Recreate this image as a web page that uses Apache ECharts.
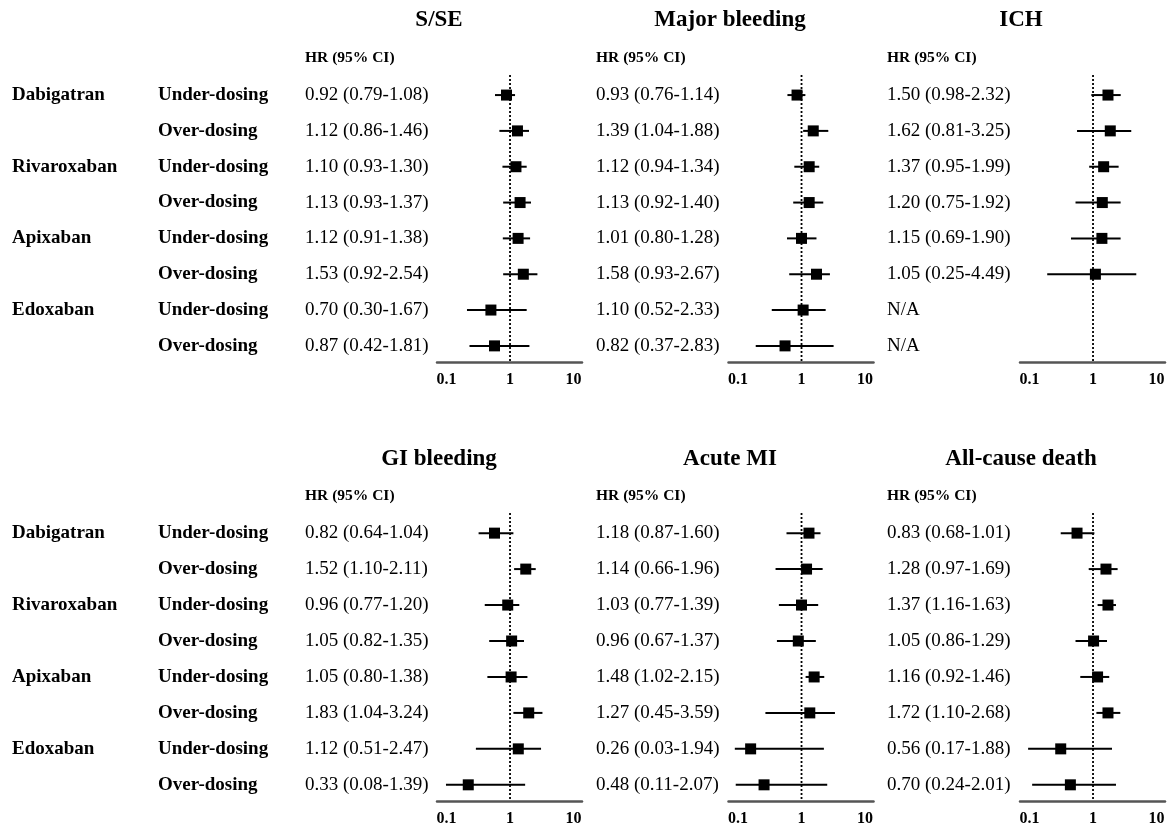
<!DOCTYPE html>
<html>
<head>
<meta charset="utf-8">
<script src="https://cdn.jsdelivr.net/npm/echarts@6/dist/echarts.min.js"></script>
<style>
html,body{margin:0;padding:0;background:#fff;}
#chart{width:1173px;height:830px;}
</style>
</head>
<body>
<div id="chart"></div>
<script>
// ---------------- DATA ----------------
const drugs = ['Dabigatran', 'Rivaroxaban', 'Apixaban', 'Edoxaban'];
const dosing = ['Under-dosing', 'Over-dosing', 'Under-dosing', 'Over-dosing',
                'Under-dosing', 'Over-dosing', 'Under-dosing', 'Over-dosing'];
const outcomes = ['S/SE', 'Major bleeding', 'ICH', 'GI bleeding', 'Acute MI', 'All-cause death'];
const headerText = 'HR (95% CI)';
const tickLabels = ['0.1', '1', '10'];

// HR (95% CI) texts, one per row
const text_SSE = ['0.92 (0.79-1.08)', '1.12 (0.86-1.46)', '1.10 (0.93-1.30)', '1.13 (0.93-1.37)',
                  '1.12 (0.91-1.38)', '1.53 (0.92-2.54)', '0.70 (0.30-1.67)', '0.87 (0.42-1.81)'];
const text_MB  = ['0.93 (0.76-1.14)', '1.39 (1.04-1.88)', '1.12 (0.94-1.34)', '1.13 (0.92-1.40)',
                  '1.01 (0.80-1.28)', '1.58 (0.93-2.67)', '1.10 (0.52-2.33)', '0.82 (0.37-2.83)'];
const text_ICH = ['1.50 (0.98-2.32)', '1.62 (0.81-3.25)', '1.37 (0.95-1.99)', '1.20 (0.75-1.92)',
                  '1.15 (0.69-1.90)', '1.05 (0.25-4.49)', 'N/A', 'N/A'];
const text_GI  = ['0.82 (0.64-1.04)', '1.52 (1.10-2.11)', '0.96 (0.77-1.20)', '1.05 (0.82-1.35)',
                  '1.05 (0.80-1.38)', '1.83 (1.04-3.24)', '1.12 (0.51-2.47)', '0.33 (0.08-1.39)'];
const text_AMI = ['1.18 (0.87-1.60)', '1.14 (0.66-1.96)', '1.03 (0.77-1.39)', '0.96 (0.67-1.37)',
                  '1.48 (1.02-2.15)', '1.27 (0.45-3.59)', '0.26 (0.03-1.94)', '0.48 (0.11-2.07)'];
const text_ACD = ['0.83 (0.68-1.01)', '1.28 (0.97-1.69)', '1.37 (1.16-1.63)', '1.05 (0.86-1.29)',
                  '1.16 (0.92-1.46)', '1.72 (1.10-2.68)', '0.56 (0.17-1.88)', '0.70 (0.24-2.01)'];

// plotted marker positions as drawn in the picture (point, lower, upper)
const pt_SSE = [0.88, 1.31, 1.24, 1.44, 1.34, 1.62, 0.50, 0.57];
const lo_SSE = [0.58, 0.68, 0.76, 0.78, 0.77, 0.78, 0.21, 0.23];
const hi_SSE = [1.20, 1.99, 1.83, 2.14, 2.07, 2.70, 1.83, 2.02];

const pt_MB = [0.85, 1.53, 1.32, 1.32, 1.00, 1.72, 1.06, 0.55];
const lo_MB = [0.60, 1.06, 0.77, 0.74, 0.59, 0.64, 0.34, 0.19];
const hi_MB = [1.15, 2.64, 1.90, 2.20, 1.72, 2.80, 2.40, 3.20];

const pt_ICH = [1.72, 1.87, 1.47, 1.40, 1.38, 1.09, null, null];
const lo_ICH = [0.94, 0.56, 0.87, 0.53, 0.45, 0.19, null, null];
const hi_ICH = [2.73, 4.00, 2.53, 2.72, 2.72, 4.80, null, null];

const pt_GI = [0.57, 1.77, 0.92, 1.06, 1.04, 1.97, 1.35, 0.22];
const lo_GI = [0.32, 1.16, 0.40, 0.47, 0.44, 1.13, 0.29, 0.098];
const hi_GI = [1.13, 2.54, 1.40, 1.66, 1.88, 3.24, 3.08, 1.73];

const pt_AMI = [1.31, 1.20, 1.00, 0.89, 1.58, 1.35, 0.158, 0.257];
const lo_AMI = [0.58, 0.39, 0.44, 0.41, 1.16, 0.27, 0.089, 0.092];
const hi_AMI = [1.99, 2.15, 1.83, 1.68, 2.28, 3.36, 2.25, 2.54];

const pt_ACD = [0.56, 1.60, 1.72, 1.02, 1.18, 1.72, 0.31, 0.44];
const lo_ACD = [0.31, 0.855, 1.18, 0.53, 0.63, 1.13, 0.095, 0.11];
const hi_ACD = [1.05, 2.44, 2.30, 1.66, 1.80, 2.69, 1.99, 2.30];

const panelTexts = [text_SSE, text_MB, text_ICH, text_GI, text_AMI, text_ACD];
const panelPt = [pt_SSE, pt_MB, pt_ICH, pt_GI, pt_AMI, pt_ACD];
const panelLo = [lo_SSE, lo_MB, lo_ICH, lo_GI, lo_AMI, lo_ACD];
const panelHi = [hi_SSE, hi_MB, hi_ICH, hi_GI, hi_AMI, hi_ACD];

// ---------------- LAYOUT ----------------
const FONT = '"Liberation Serif", "Times New Roman", serif';
const textX = [305, 596, 887];
const gridLeft = [437, 728.5, 1020];
const gridW = 145;
const gridTop = [75, 513];
const gridH = [287, 288];
const titleY = [20, 459];
const headerY = [58, 496];
const yMin = -0.56, yMax = 7.45;
const xMin = 0.0708, xMax = 13.6;

const chart = echarts.init(document.getElementById('chart'), null, {renderer: 'canvas'});

const grids = [], xAxes = [], yAxes = [], series = [], graphics = [];

function rowY(r, i) {
  return gridTop[r] + (i - yMin) * gridH[r] / (yMax - yMin);
}

for (let p = 0; p < 6; p++) {
  const r = Math.floor(p / 3), c = p % 3;
  grids.push({left: gridLeft[c], top: gridTop[r], width: gridW, height: gridH[r], containLabel: false});
  xAxes.push({
    gridIndex: p, type: 'log', logBase: 10, min: xMin, max: xMax,
    axisLine: {show: true, onZero: false, lineStyle: {color: '#555', width: 2.5}},
    axisTick: {show: false},
    splitLine: {show: false},
    axisLabel: {
      show: true, margin: 10, color: '#000', fontFamily: FONT, fontWeight: 'bold', fontSize: 16,
      showMinLabel: false, showMaxLabel: false,
      formatter: function (v) {
        const e = Math.log10(v);
        const k = Math.round(e);
        if (Math.abs(e - k) < 1e-6 && k >= -1 && k <= 1) return tickLabels[k + 1];
        return '';
      }
    }
  });
  yAxes.push({gridIndex: p, type: 'value', inverse: true, min: yMin, max: yMax, show: false});

  // reference dotted line at HR = 1
  series.push({
    type: 'line', xAxisIndex: p, yAxisIndex: p, symbol: 'none', silent: true,
    lineStyle: {color: '#000', width: 1.8, type: [2, 2]},
    data: [[1, yMin], [1, yMax]], z: 2
  });

  // forest marks
  const data = [];
  for (let i = 0; i < 8; i++) {
    if (panelPt[p][i] != null) data.push([i, panelPt[p][i], panelLo[p][i], panelHi[p][i]]);
  }
  series.push({
    type: 'custom', xAxisIndex: p, yAxisIndex: p, z: 3,
    encode: {x: [1, 2, 3], y: 0},
    data: data,
    renderItem: function (params, api) {
      const row = api.value(0);
      const c0 = api.coord([api.value(1), row]);
      const cl = api.coord([api.value(2), row]);
      const ch = api.coord([api.value(3), row]);
      const s = 11;
      return {
        type: 'group',
        children: [
          {type: 'line', shape: {x1: cl[0], y1: cl[1], x2: ch[0], y2: ch[1]},
           style: {stroke: '#000', lineWidth: 2}},
          {type: 'rect', shape: {x: c0[0] - s / 2, y: c0[1] - s / 2, width: s, height: s},
           style: {fill: '#000'}}
        ]
      };
    }
  });

  // panel title
  graphics.push({type: 'text', x: textX[c] + 134, y: titleY[r],
    style: {text: outcomes[p], font: 'bold 23px ' + FONT, fill: '#000', align: 'center', verticalAlign: 'middle'}});
  // header
  graphics.push({type: 'text', x: textX[c], y: headerY[r],
    style: {text: headerText, font: 'bold 15.5px ' + FONT, fill: '#000', align: 'left', verticalAlign: 'middle'}});
  // HR texts
  for (let i = 0; i < 8; i++) {
    graphics.push({type: 'text', x: textX[c], y: rowY(r, i),
      style: {text: panelTexts[p][i], font: '19px ' + FONT, fill: '#000', align: 'left', verticalAlign: 'middle'}});
  }
}

// row labels (left) for both rows
for (let r = 0; r < 2; r++) {
  for (let i = 0; i < 8; i++) {
    if (i % 2 === 0) {
      graphics.push({type: 'text', x: 12, y: rowY(r, i),
        style: {text: drugs[i / 2], font: 'bold 19px ' + FONT, fill: '#000', align: 'left', verticalAlign: 'middle'}});
    }
    graphics.push({type: 'text', x: 158, y: rowY(r, i),
      style: {text: dosing[i], font: 'bold 19px ' + FONT, fill: '#000', align: 'left', verticalAlign: 'middle'}});
  }
}

chart.setOption({
  animation: false,
  backgroundColor: '#fff',
  grid: grids,
  xAxis: xAxes,
  yAxis: yAxes,
  series: series,
  graphic: {elements: graphics}
});
</script>
</body>
</html>
